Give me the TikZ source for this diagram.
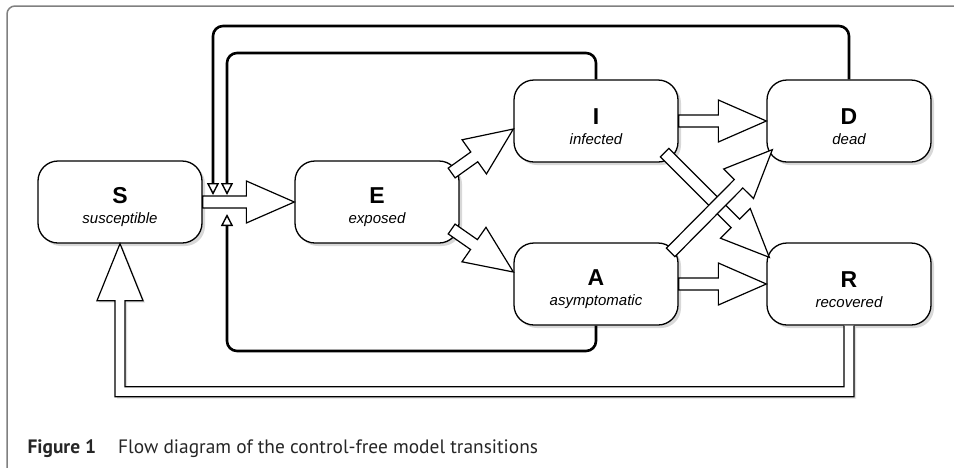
\documentclass[tikz,border=0pt]{standalone}
\usepackage{fontspec}
\setmainfont{Liberation Sans}
\newfontfamily\capfont{PT Sans}
\usetikzlibrary{arrows.meta, calc, shadows}

\tikzstyle{state} = [draw=black, line width=1.3pt, fill=white, rounded corners=20pt, minimum width=164pt, minimum height=82pt, inner sep=0pt, align=center, drop shadow={shadow xshift=3pt, shadow yshift=-3pt, fill=black!30}]
\tikzstyle{block} = [draw=black, line width=1.2pt, fill=white, line join=miter]
\tikzstyle{feedback} = [line width=2.6pt, rounded corners=10pt, -{Triangle[length=12pt, width=12pt, line width=1.4pt, fill=white]}]
\tikzstyle{frame} = [draw=black!50, line width=1.5pt, rounded corners=8pt]

\newcommand{\statename}[2]{\rule{0pt}{27pt}{\fontsize{23}{23}\selectfont\bfseries #1}\\[8pt]{\fontsize{15}{15}\selectfont\itshape #2}}

% hollow block arrow from #1 to #2
\newcommand{\blockarrow}[2]{%
  \coordinate (hb) at ($(#2)!48pt!(#1)$);
  \draw [block] ($(#1)!6pt!90:(#2)$) -- ($(hb)!6pt!90:(#2)$) -- ($(hb)!21pt!90:(#2)$) -- (#2)
    -- ($(hb)!21pt!-90:(#2)$) -- ($(hb)!6pt!-90:(#2)$) -- ($(#1)!6pt!-90:(#2)$) -- cycle;
}

\begin{document}
\begin{tikzpicture}[x=1pt, y=-1pt]
\useasboundingbox (0,0) rectangle (954,467);

\begin{scope}
\clip (0,0) rectangle (954,467);
\draw [frame] (960,6) -- (7,6) -- (7,475) -- (40,475);
\end{scope}

\node (S) [state] at (120,202) {\statename{S}{susceptible}};
\node (E) [state] at (377,202) {\statename{E}{exposed}};
\node (I) [state] at (596,121) {\statename{I}{infected}};
\node (A) [state] at (596,284) {\statename{A}{asymptomatic}};
\node (D) [state] at (849,121) {\statename{D}{dead}};
\node (R) [state] at (849,284) {\statename{R}{recovered}};

% arrow ends near the box corners
\coordinate (ei0) at ($(E.east)+(-8,-29)$);
\coordinate (ei1) at ($(I.west)+(0,8)$);
\coordinate (ea0) at ($(E.east)+(-8,27)$);
\coordinate (ea1) at ($(A.west)+(0,-12)$);
\coordinate (ir0) at ($(I.south east)+(-14,-10)$);
\coordinate (ir1) at ($(R.north west)+(3,15)$);
\coordinate (ad0) at ($(A.north east)+(-8,10)$);
\coordinate (ad1) at ($(D.south west)+(6,-13)$);

\blockarrow{S.east}{E.west}
\blockarrow{ei0}{ei1}
\blockarrow{ea0}{ea1}
\blockarrow{I.east}{D.west}
\blockarrow{A.east}{R.west}
\blockarrow{ir0}{ir1}
\blockarrow{ad0}{ad1}

% recovery back to susceptible
\draw [block, drop shadow={shadow xshift=2pt, shadow yshift=-2pt, fill=black!25}] ($(R.south)+(-5,0)$) |- ($(S.south)+(5,143)$) -- ($(S.south)+(5,57)$) -- ($(S.south)+(23,57)$) -- (S.south)
  -- ($(S.south)+(-23,57)$) -- ($(S.south)+(-5,57)$) |- ($(R.south)+(5,71)$) -- ($(R.south)+(5,0)$);

\coordinate (inD) at (213,195);
\coordinate (inI) at (227,195);
\coordinate (inA) at (227,214);

\draw [feedback] (D.north) -- (D.north |- 0,26) -| (inD);
\draw [feedback] (I.north) -- (I.north |- 0,53) -| (inI);
\draw [feedback] (A.south) -- (A.south |- 0,351) -| (inA);

\node (cap) [anchor=base west, text=black!85, font=\capfont\fontsize{19.4}{20}\selectfont] at (24,453) {\textbf{Figure 1}\hspace{17pt} Flow diagram of the control-free model transitions};

\end{tikzpicture}
\end{document}
